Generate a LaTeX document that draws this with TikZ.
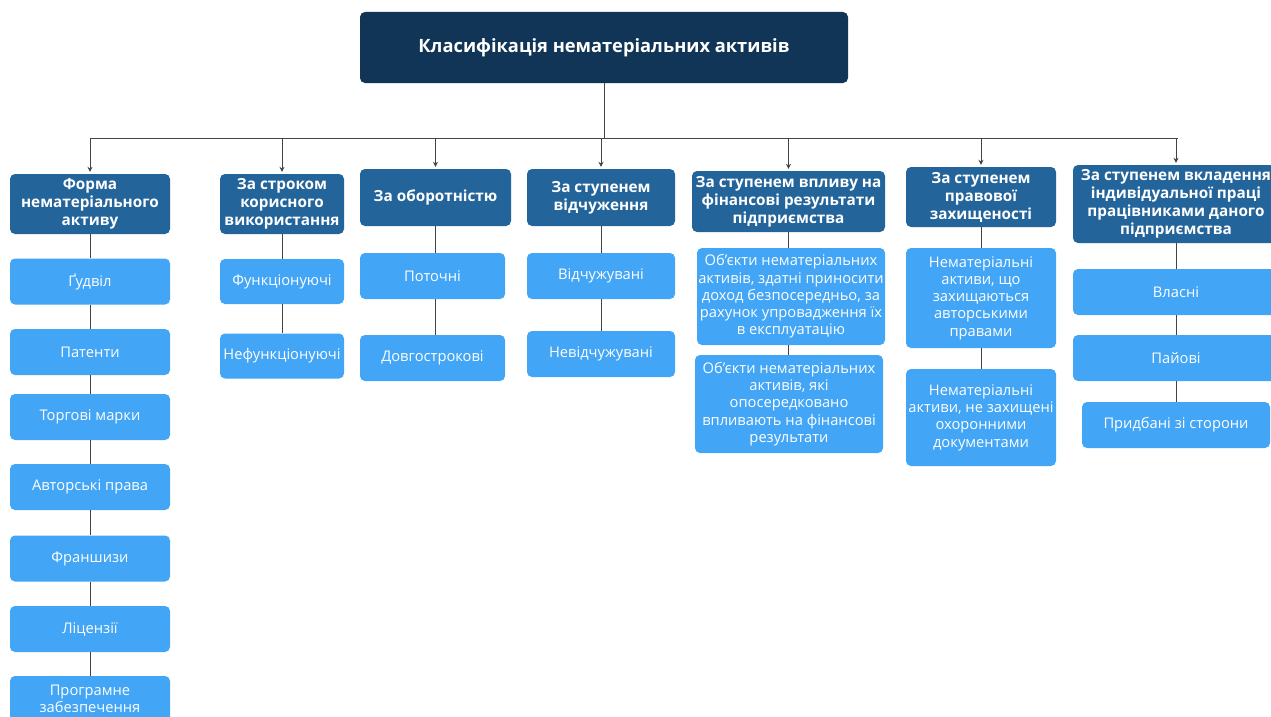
\documentclass[tikz,border=0pt]{standalone}
\usepackage{fontspec}
\setmainfont{Open Sans}
\usetikzlibrary{arrows.meta}
\definecolor{rootc}{HTML}{103556}
\definecolor{catc}{HTML}{23649B}
\definecolor{leafc}{HTML}{42A5F5}
\definecolor{linec}{HTML}{444444}
\tikzset{
  base/.style={rectangle, rounded corners=5pt, inner sep=1pt, align=center, text=white, draw=none},
  rootbox/.style={base, fill=rootc, font=\fontsize{18.3}{21}\selectfont\bfseries},
  catbox/.style={base, fill=catc, font=\fontsize{15.3}{18}\selectfont\bfseries},
  leafbox/.style={base, fill=leafc, font=\fontsize{14.7}{17.3}\selectfont},
  conn/.style={draw=linec, line width=1pt},
  arr/.style={conn, -{Stealth[length=5pt,width=5pt]}, shorten >=2pt},
}
\begin{document}
\begin{tikzpicture}[x=1pt,y=-1pt]
\begin{scope}
\clip (0,0) rectangle (1271,717);
\useasboundingbox (0,0) rectangle (1271,717);
\fill[white] (0,0) rectangle (1271,717);

\node[rootbox, minimum width=488pt, minimum height=71pt] (root) at (604,47.5) {Класифікація нематеріальних активів};

\node[catbox, minimum width=160pt, minimum height=60pt] (c1) at (90,204) {Форма\\нематеріального\\активу};
\node[catbox, minimum width=124pt, minimum height=60pt] (c2) at (282,204) {За строком\\корисного\\використання};
\node[catbox, minimum width=151pt, minimum height=57pt] (c3) at (435.5,197.5) {За оборотністю};
\node[catbox, minimum width=148pt, minimum height=57pt] (c4) at (601,197.5) {За ступенем\\відчуження};
\node[catbox, minimum width=193pt, minimum height=61pt] (c5) at (788.5,201.5) {За ступенем впливу на\\фінансові результати\\підприємства};
\node[catbox, minimum width=150pt, minimum height=60pt] (c6) at (981,197) {За ступенем\\правової\\захищеності};
\node[catbox, minimum width=206pt, minimum height=78pt] (c7) at (1176,204) {За ступенем вкладення\\індивідуальної праці\\працівниками даного\\підприємства};

% column 1
\node[leafbox, minimum width=160pt, minimum height=46pt] (a1) at (90,281.5) {Ґудвіл};
\node[leafbox, minimum width=160pt, minimum height=46pt] (a2) at (90,352) {Патенти};
\node[leafbox, minimum width=160pt, minimum height=46pt] (a3) at (90,417) {Торгові марки};
\node[leafbox, minimum width=160pt, minimum height=46pt] (a4) at (90,487) {Авторські права};
\node[leafbox, minimum width=160pt, minimum height=46pt] (a5) at (90,558.5) {Франшизи};
\node[leafbox, minimum width=160pt, minimum height=46pt] (a6) at (90,629) {Ліцензії};
\node[leafbox, minimum width=160pt, minimum height=46pt] (a7) at (90,699) {Програмне\\забезпечення};

% column 2
\node[leafbox, minimum width=124pt, minimum height=45pt] (b1) at (282,281.5) {Функціонуючі};
\node[leafbox, minimum width=124pt, minimum height=45pt] (b2) at (282,356) {Нефункціонуючі};

% column 3
\node[leafbox, minimum width=145pt, minimum height=46pt] (d1) at (432.5,276) {Поточні};
\node[leafbox, minimum width=145pt, minimum height=46pt] (d2) at (432.5,358) {Довгострокові};

% column 4
\node[leafbox, minimum width=148pt, minimum height=46pt] (e1) at (601,276) {Відчужувані};
\node[leafbox, minimum width=148pt, minimum height=46pt] (e2) at (601,354) {Невідчужувані};

% column 5
\node[leafbox, minimum width=188pt, minimum height=97pt] (f1) at (791,296.5) {Об'єкти нематеріальних\\активів, здатні приносити\\доход безпосередньо, за\\рахунок упровадження їх\\в експлуатацію};
\node[leafbox, minimum width=188pt, minimum height=98pt] (f2) at (789,404) {Об'єкти нематеріальних\\активів, які\\опосередковано\\впливають на фінансові\\результати};

% column 6
\node[leafbox, minimum width=150pt, minimum height=100pt] (g1) at (981,298) {Нематеріальні\\активи, що\\захищаються\\авторськими\\правами};
\node[leafbox, minimum width=150pt, minimum height=97pt] (g2) at (981,417.5) {Нематеріальні\\активи, не захищені\\охоронними\\документами};

% column 7
\node[leafbox, minimum width=206pt, minimum height=46pt] (h1) at (1176,292) {Власні};
\node[leafbox, minimum width=206pt, minimum height=46pt] (h2) at (1176,358) {Пайові};
\node[leafbox, minimum width=188pt, minimum height=46pt] (h3) at (1176,425) {Придбані зі сторони};

% bus
\coordinate (busL) at (90,138);
\coordinate (busR) at (1178,138);
\draw[conn] (busL) -- (busR);
\draw[conn] (root.south) -- (root.south |- busL);
\foreach \c in {c1,c2,c3,c4,c5,c6,c7}{
  \draw[arr] (\c.north |- busL) -- (\c.north);
}

% vertical connectors
\draw[conn] (c1.south) -- (a1.north);
\draw[conn] (a1.south) -- (a2.north);
\draw[conn] (a2.south) -- (a3.north);
\draw[conn] (a3.south) -- (a4.north);
\draw[conn] (a4.south) -- (a5.north);
\draw[conn] (a5.south) -- (a6.north);
\draw[conn] (a6.south) -- (a7.north);
\draw[conn] (c2.south) -- (b1.north);
\draw[conn] (b1.south) -- (b2.north);
\draw[conn] (c3.south) -- (d1.north -| c3.south);
\draw[conn] (d1.south -| c3.south) -- (d2.north -| c3.south);
\draw[conn] (c4.south) -- (e1.north);
\draw[conn] (e1.south) -- (e2.north);
\draw[conn] (c5.south) -- (f1.north -| c5.south);
\draw[conn] (f1.south -| c5.south) -- (f2.north -| c5.south);
\draw[conn] (c6.south) -- (g1.north);
\draw[conn] (g1.south) -- (g2.north);
\draw[conn] (c7.south) -- (h1.north);
\draw[conn] (h1.south) -- (h2.north);
\draw[conn] (h2.south) -- (h3.north);
\end{scope}
\end{tikzpicture}
\end{document}
